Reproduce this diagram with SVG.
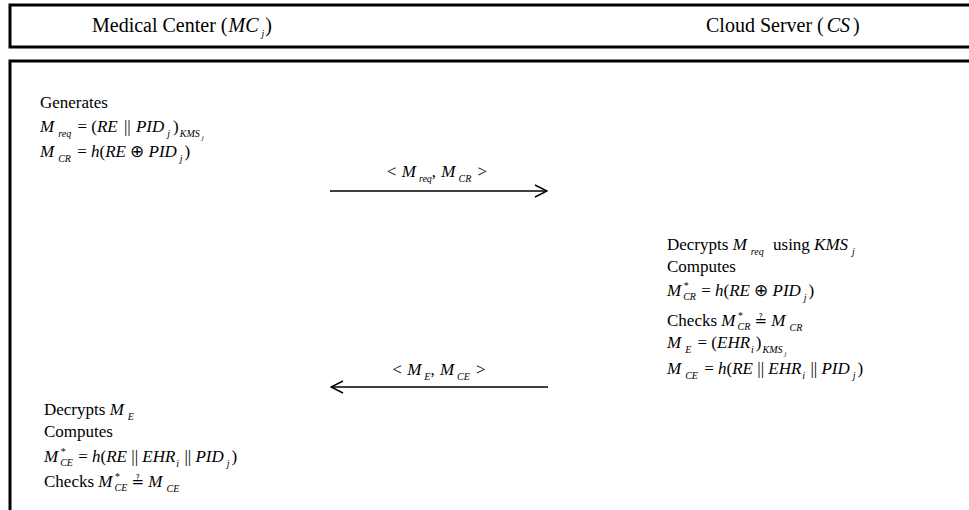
<svg xmlns="http://www.w3.org/2000/svg" width="969" height="510" viewBox="0 0 969 510" font-family="'Liberation Serif', 'Times New Roman', serif">
<style>
.t{font-family:'Liberation Serif','Times New Roman',serif;font-size:17px;fill:#000}
.h{font-size:20px}
.i{font-style:italic}
.s{font-size:10px;font-style:italic}
.ss{font-size:7px;font-style:italic}
.qe{font-family:'DejaVu Serif','DejaVu Sans',serif;font-size:15px;font-style:normal}
.frame{fill:none;stroke:#000;stroke-width:3}
.msg{stroke:#000;stroke-width:1.4;fill:none}
</style>
<defs>
<marker id="arr" markerUnits="userSpaceOnUse" markerWidth="16" markerHeight="14" refX="15" refY="7" orient="auto">
<path d="M3,1 L15,7 L3,13" fill="none" stroke="#000" stroke-width="1.5"/>
</marker>
</defs>
<g id="frames">
<path class="frame" d="M975,5 H10 V47 H975"/>
<path class="frame" d="M975,61 H10 V515"/>
</g>
<g id="header-mc"><text class="t h" x="92" y="32">Medical Center (<tspan class="i" dx="1">MC</tspan><tspan class="s" dx="3" dy="5">j</tspan><tspan dx="1" dy="-5">)</tspan></text></g>
<g id="header-cs"><text class="t h" x="706" y="32">Cloud Server (<tspan class="i" dx="3">CS</tspan><tspan dx="3">)</tspan></text></g>
<g id="connectors">
<line class="msg" x1="330" y1="191" x2="547" y2="191" marker-end="url(#arr)"/>
<line class="msg" x1="548" y1="387" x2="331" y2="387" marker-end="url(#arr)"/>
<text class="t" x="437" y="177" text-anchor="middle">&lt; <tspan class="i" dx="1">M</tspan><tspan class="s" dx="3" dy="5">req</tspan><tspan dy="-5">, </tspan><tspan class="i" dx="1">M</tspan><tspan class="s" dx="3" dy="5">CR</tspan><tspan dx="2" dy="-5"> &gt;</tspan></text>
<text class="t" x="439" y="375" text-anchor="middle">&lt; <tspan class="i" dx="1">M</tspan><tspan class="s" dx="3" dy="5">E</tspan><tspan dy="-5">, </tspan><tspan class="i" dx="1">M</tspan><tspan class="s" dx="3" dy="5">CE</tspan><tspan dx="2" dy="-5"> &gt;</tspan></text>
</g>
<g id="mc-generate">
<text class="t" x="40" y="108">Generates</text>
<text class="t" x="40" y="132"><tspan class="i">M</tspan><tspan class="s" dx="4" dy="5">req</tspan><tspan dx="2" dy="-5"> = (</tspan><tspan class="i">RE</tspan><tspan dx="2"> || </tspan><tspan class="i" dx="1">PID</tspan><tspan class="s" dx="3" dy="5">j</tspan><tspan dx="3" dy="-5">)</tspan><tspan class="s" dx="1" dy="5">KMS</tspan><tspan class="ss" dx="2" dy="3">j</tspan></text>
<text class="t" x="40" y="157"><tspan class="i">M</tspan><tspan class="s" dx="4" dy="5">CR</tspan><tspan dx="2" dy="-5"> = </tspan><tspan class="i">h</tspan>(<tspan class="i">RE</tspan> ⊕ <tspan class="i">PID</tspan><tspan class="s" dx="3" dy="5">j</tspan><tspan dx="2" dy="-5">)</tspan></text>
</g>
<g id="cs-process">
<text class="t" x="667" y="250">Decrypts <tspan class="i">M</tspan><tspan class="s" dx="4" dy="5">req</tspan><tspan dx="5" dy="-5"> using </tspan><tspan class="i">KMS</tspan><tspan class="s" dx="4" dy="5">j</tspan></text>
<text class="t" x="667" y="272">Computes</text>
<text class="t" x="667" y="296"><tspan class="i">M</tspan><tspan class="s" dx="2" dy="-7">*</tspan><tspan class="s" dx="-5" dy="11">CR</tspan><tspan dx="1" dy="-4"> = </tspan><tspan class="i">h</tspan>(<tspan class="i">RE</tspan> ⊕ <tspan class="i">PID</tspan><tspan class="s" dx="3" dy="5">j</tspan><tspan dx="2" dy="-5">)</tspan></text>
<text class="t" x="667" y="326">Checks <tspan class="i">M</tspan><tspan class="s" dx="2" dy="-7">*</tspan><tspan class="s" dx="-5" dy="11">CR</tspan><tspan dy="-4"> </tspan><tspan class="qe">≟</tspan><tspan class="i"> M</tspan><tspan class="s" dx="4" dy="5">CR</tspan></text>
<text class="t" x="667" y="348"><tspan class="i">M</tspan><tspan class="s" dx="4" dy="5">E</tspan><tspan dx="2" dy="-5"> = (</tspan><tspan class="i">EHR</tspan><tspan class="s" dx="1" dy="5">i</tspan><tspan dx="2" dy="-5">)</tspan><tspan class="s" dx="1" dy="5">KMS</tspan><tspan class="ss" dx="2" dy="3">j</tspan></text>
<text class="t" x="667" y="374"><tspan class="i">M</tspan><tspan class="s" dx="4" dy="5">CE</tspan><tspan dx="2" dy="-5"> = </tspan><tspan class="i">h</tspan>(<tspan class="i">RE</tspan> || <tspan class="i">EHR</tspan><tspan class="s" dx="1" dy="5">i</tspan><tspan dx="1" dy="-5"> || </tspan><tspan class="i">PID</tspan><tspan class="s" dx="3" dy="5">j</tspan><tspan dx="2" dy="-5">)</tspan></text>
</g>
<g id="mc-verify">
<text class="t" x="44" y="415">Decrypts <tspan class="i">M</tspan><tspan class="s" dx="4" dy="5">E</tspan></text>
<text class="t" x="44" y="437">Computes</text>
<text class="t" x="44" y="462"><tspan class="i">M</tspan><tspan class="s" dx="2" dy="-7">*</tspan><tspan class="s" dx="-5" dy="11">CE</tspan><tspan dx="1" dy="-4"> = </tspan><tspan class="i">h</tspan>(<tspan class="i">RE</tspan> || <tspan class="i">EHR</tspan><tspan class="s" dx="1" dy="5">i</tspan><tspan dx="1" dy="-5"> || </tspan><tspan class="i">PID</tspan><tspan class="s" dx="3" dy="5">j</tspan><tspan dx="2" dy="-5">)</tspan></text>
<text class="t" x="44" y="487">Checks <tspan class="i">M</tspan><tspan class="s" dx="2" dy="-7">*</tspan><tspan class="s" dx="-5" dy="11">CE</tspan><tspan dy="-4"> </tspan><tspan class="qe">≟</tspan><tspan class="i"> M</tspan><tspan class="s" dx="4" dy="5">CE</tspan></text>
</g>
</svg>
